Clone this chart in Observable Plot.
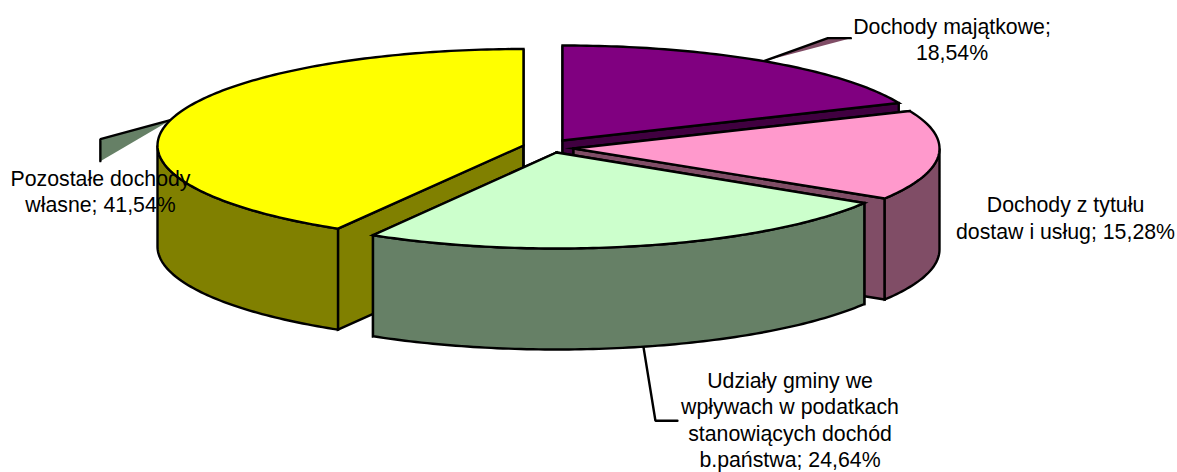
<!DOCTYPE html>
<html><head><meta charset="utf-8">
<style>html,body{margin:0;padding:0;background:#fff}svg{display:block}</style>
<script src="https://cdn.jsdelivr.net/npm/d3@7"></script>
<script src="https://cdn.jsdelivr.net/npm/@observablehq/plot@0.6"></script>
</head><body><div id="chart"></div>
<script>
// Data, in the order the slices are drawn clockwise from 12 o'clock
const categories = ["Dochody majątkowe", "Dochody z tytułu dostaw i usług", "Udziały gminy we wpływach w podatkach stanowiących dochód b.państwa", "Pozostałe dochody własne"];
const shares = [18.54, 15.28, 24.64, 41.54];
const labelTexts = ["Dochody majątkowe;\n18,54%", "Dochody z tytułu\ndostaw i usług; 15,28%", "Udziały gminy we\nwpływach w podatkach\nstanowiących dochód\nb.państwa; 24,64%", "Pozostałe dochody\nwłasne; 41,54%"];
const topColors = ["#800080", "#FF99CC", "#CCFFCC", "#FFFF00"];
const sideColors = ["#400040", "#804D66", "#668066", "#808000"];

// Layout of the projected pie
const rxs = [366, 366, 362, 366], rys = [95, 95, 96, 96.5], depth = 101;
const centerX = [562, 573, 556, 523];
const centerY = [140, 148, 152, 145];
const labelX = [951.5, 1065, 789.5, 100];
const labelY = [38, 216.5, 418.5, 190];
const drawOrder = [3, 0, 1, 2];
// Leader elbows, relative to the rim point at each slice's mid-angle (null: no leader)
const leaderSteps = [[[64, -23], [87, -23]], null, [[12, 74], [34, 74]], [[-70, 19], [-70, 41]]];
const leaderFill = ["#804D66", null, "none", "#668066"];

const total = d3.sum(shares);
const cum = d3.cumsum(shares);
const TAU = 2 * Math.PI;
const ang = (v) => v / total * TAU;
const slices = shares.map((v, i) => ({i, a0: ang(cum[i] - v), a1: ang(cum[i])}));
const rim = (i, a, dz = 0) => ({x: centerX[i] + rxs[i] * Math.sin(a), y: centerY[i] - rys[i] * Math.cos(a) + dz});
const arc = (i, a0, a1, dz = 0) => {
  const n = Math.max(2, Math.ceil((a1 - a0) * 60));
  return d3.range(n + 1).map((k) => rim(i, a0 + (a1 - a0) * k / n, dz));
};
const apex = (i, dz = 0) => ({x: centerX[i], y: centerY[i] + dz});

const outline = {stroke: "#000", strokeWidth: 2.4, strokeLinejoin: "miter", strokeMiterlimit: 8, curve: "linear-closed"};
const poly = (pts, fill) => Plot.line(pts, {x: "x", y: "y", fill, ...outline});

const marks = [];
// Leaders sit behind the pie
slices.forEach(({i, a0, a1}) => {
  const steps = leaderSteps[i];
  if (!steps) return;
  const mid = (a0 + a1) / 2;
  const front = mid > Math.PI / 2 && mid < 1.5 * Math.PI;
  const s = rim(i, mid, front ? depth : 0);
  const pts = [s, ...steps.map(([dx, dy]) => ({x: s.x + dx, y: s.y + dy}))];
  marks.push(Plot.line(pts, {x: "x", y: "y", fill: leaderFill[i], stroke: "#000", strokeWidth: 2.4, strokeLinejoin: "miter"}));
});
// Each exploded slice: cut faces, outer wall, then the top
drawOrder.forEach((i) => {
  const {a0, a1} = slices[i];
  const fill = sideColors[i];
  for (const a of [a0, a1]) {
    marks.push(poly([apex(i), rim(i, a), rim(i, a, depth), apex(i, depth)], fill));
  }
  const w0 = Math.max(a0, Math.PI / 2), w1 = Math.min(a1, 1.5 * Math.PI);
  if (w1 > w0) {
    marks.push(poly([...arc(i, w0, w1), ...arc(i, w0, w1, depth).reverse()], fill));
  }
  marks.push(poly([apex(i), ...arc(i, a0, a1)], topColors[i]));
});
// Labels on top
marks.push(Plot.text(slices.map((s) => s.i), {
  x: (i) => labelX[i], y: (i) => labelY[i], text: (i) => labelTexts[i],
  fontSize: 21.3, lineHeight: 1.25, fill: "#000", textAnchor: "middle", fontFamily: "Liberation Sans, Arial, sans-serif"
}));

const chart = Plot.plot({
  width: 1177, height: 472, margin: 0,
  x: {domain: [0, 1177], range: [0, 1177], axis: null},
  y: {domain: [0, 472], range: [0, 472], axis: null},
  style: {background: "#fff", fontFamily: "Liberation Sans, Arial, sans-serif"},
  marks
});
document.getElementById("chart").appendChild(chart);
</script></body></html>
